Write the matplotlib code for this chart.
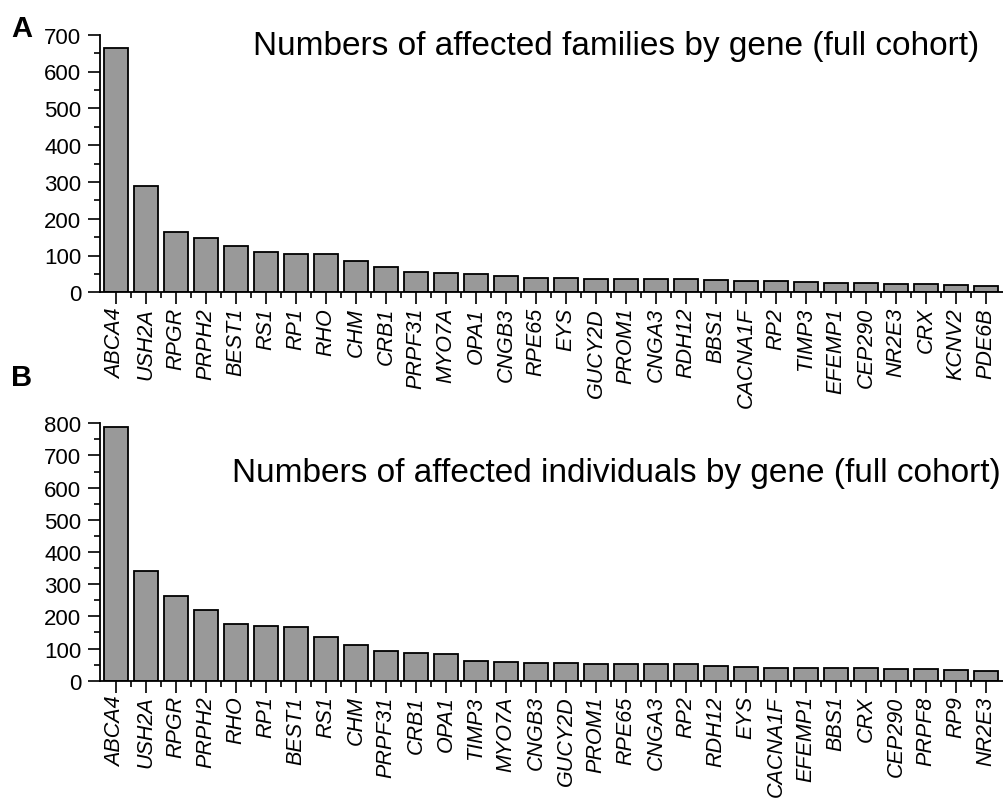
import matplotlib
matplotlib.use("Agg")
import matplotlib.pyplot as plt
from matplotlib.ticker import MultipleLocator
import numpy as np

plt.rcParams['font.family'] = ['Liberation Sans', 'DejaVu Sans']

genes_fam = ["ABCA4", "USH2A", "RPGR", "PRPH2", "BEST1", "RS1", "RP1", "RHO", "CHM", "CRB1",
             "PRPF31", "MYO7A", "OPA1", "CNGB3", "RPE65", "EYS", "GUCY2D", "PROM1", "CNGA3", "RDH12",
             "BBS1", "CACNA1F", "RP2", "TIMP3", "EFEMP1", "CEP290", "NR2E3", "CRX", "KCNV2", "PDE6B"]
families = [663, 290, 163, 147, 125, 110, 105, 104, 85, 69,
            56, 53, 50, 44, 39, 38, 37, 37, 35, 35,
            33, 32, 30, 29, 25, 24, 23, 22, 21, 18]

genes_ind = ["ABCA4", "USH2A", "RPGR", "PRPH2", "RHO", "RP1", "BEST1", "RS1", "CHM", "PRPF31",
             "CRB1", "OPA1", "TIMP3", "MYO7A", "CNGB3", "GUCY2D", "PROM1", "RPE65", "CNGA3", "RP2",
             "RDH12", "EYS", "CACNA1F", "EFEMP1", "BBS1", "CRX", "CEP290", "PRPF8", "RP9", "NR2E3"]
individuals = [788, 341, 263, 221, 176, 170, 168, 135, 111, 93,
               86, 84, 62, 58, 55, 54, 53, 51, 51, 51,
               45, 44, 40, 40, 38, 38, 37, 36, 33, 31]

title_a = "Numbers of affected families by gene (full cohort)"
title_b = "Numbers of affected individuals by gene (full cohort)"

fig = plt.figure(figsize=(10.04, 8.04), dpi=100)
W, H = 1004, 804

def panel(rect, genes, vals, ymax, ystep, title, title_xy):
    ax = fig.add_axes(rect)
    x = np.arange(len(genes))
    ax.bar(x, vals, width=0.8, color="#999999", edgecolor="black", linewidth=1.3, zorder=2)
    ax.set_xlim(-0.53, 29.6)
    ax.set_ylim(0, ymax)
    ax.set_xticks(x)
    ax.set_xticklabels(genes, rotation=90, style="italic", fontsize=15.5)
    ax.set_xticks(x[:-1] + 0.5, minor=True)
    ax.yaxis.set_major_locator(MultipleLocator(ystep))
    ax.yaxis.set_minor_locator(MultipleLocator(ystep / 2))
    ax.tick_params(axis="both", which="major", direction="out", length=8.5, width=1.2)
    ax.tick_params(axis="x", which="major", pad=2)
    ax.tick_params(axis="y", which="major", pad=5, labelsize=16)
    ax.tick_params(axis="both", which="minor", direction="out", length=4, width=1.2)
    for s in ["top", "right"]:
        ax.spines[s].set_visible(False)
    for s in ["left", "bottom"]:
        ax.spines[s].set_linewidth(1.3)
    fig.text(title_xy[0] / W, 1 - title_xy[1] / H, title, fontsize=24, ha="center", va="center")
    return ax

axA = panel([100 / W, 1 - 293.3 / H, 904 / W, (293.3 - 35.7) / H], genes_fam, families, 700, 100,
            title_a, (616, 46))
axB = panel([100 / W, 1 - 681.7 / H, 904 / W, (681.7 - 424.3) / H], genes_ind, individuals, 800, 100,
            title_b, (616, 474))

fig.text(11 / W, 1 - 29 / H, "A", fontsize=21, fontweight="bold", ha="left", va="center")
fig.text(11 / W, 1 - 378 / H, "B", fontsize=21, fontweight="bold", ha="left", va="center")

fig.savefig("out.png", dpi=100)
